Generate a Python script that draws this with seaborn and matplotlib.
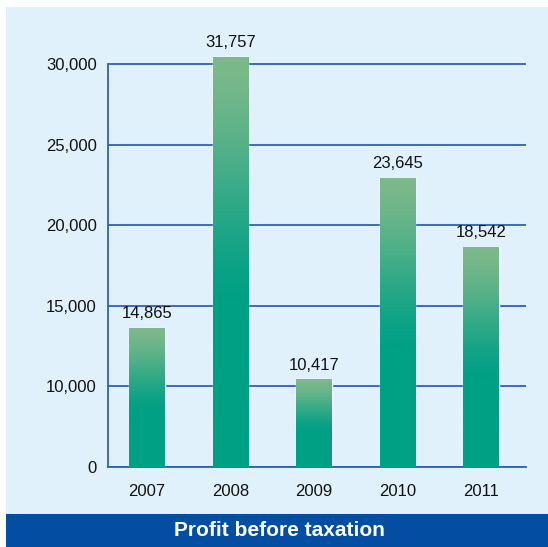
import numpy as np
import matplotlib
matplotlib.use("Agg")
import matplotlib.pyplot as plt
from matplotlib.colors import to_rgb
from matplotlib.patches import Rectangle
import seaborn as sns

# data
years = ["2007", "2008", "2009", "2010", "2011"]
bar_heights = [13600, 30430, 10400, 22900, 18640]   # where the bars actually end
value_labels = ["14,865", "31,757", "10,417", "23,645", "18,542"]
ytick_values = [5000, 10000, 15000, 20000, 25000, 30000]
ytick_labels = ["0", "10,000", "15,000", "20,000", "25,000", "30,000"]
title = "Profit before taxation"

BG = "#E0F1FB"
GRID = "#2F62B2"
BANNER = "#034EA2"
TEAL = "#00A085"
LIGHT = "#7DB98A"

sns.set_style("white")
plt.rcParams["font.family"] = ["Liberation Sans", "DejaVu Sans"]

fig = plt.figure(figsize=(5.48, 5.47), dpi=100, facecolor="white")
# light blue panel and the blue banner under it
fig.patches.append(Rectangle((6 / 548, 33 / 547), 1, 507 / 547, transform=fig.transFigure,
                             facecolor=BG, edgecolor="none", zorder=-10))
fig.patches.append(Rectangle((6 / 548, 0), 1, 33 / 547, transform=fig.transFigure,
                             facecolor=BANNER, edgecolor="none", zorder=-10))

ax = fig.add_axes([108 / 548, 80 / 547, 418 / 548, 451.4 / 547])
ax.set_facecolor("none")

sns.barplot(x=years, y=bar_heights, color=TEAL, width=0.42, saturation=1, ax=ax, zorder=2)

y0 = ytick_values[0]
ytop = 33000

# gradient fill: light green at the top fading into teal over the upper part
c_top = np.array(to_rgb(LIGHT))
c_bot = np.array(to_rgb(TEAL))
f = np.linspace(0, 1, 256)
t = np.clip((f - 0.40) / 0.60, 0, 1)
t = (t * t * (3 - 2 * t))[:, None] * 0.6 + t[:, None] * 0.4
grad = (c_bot * (1 - t) + c_top * t)[:, None, :]
for p, lab in zip(ax.patches, value_labels):
    x, w, h = p.get_x(), p.get_width(), p.get_height()
    ax.imshow(grad, extent=[x, x + w, y0, h], origin="lower", aspect="auto",
              interpolation="bilinear", zorder=3)
    ax.annotate(lab, (x + w / 2, h), xytext=(0, 5), textcoords="offset points",
                ha="center", va="bottom", fontsize=12, color="#111111", zorder=4)

ax.set_xlim(-0.467, 4.539)
ax.set_ylim(y0, ytop)

ax.set_yticks(ytick_values)
ax.set_yticklabels(ytick_labels)
ax.yaxis.grid(True, color=GRID, linewidth=1.3, zorder=1)
ax.set_axisbelow(True)
ax.tick_params(axis="y", length=0, pad=8, labelsize=12, labelcolor="#111111")

ax.set_xticks(range(len(years)))
ax.set_xticklabels(years)
ax.tick_params(axis="x", which="major", length=0, pad=12, labelsize=12, labelcolor="#111111")
ax.set_xticks([i + 0.53 for i in range(len(years))], minor=True)
ax.tick_params(axis="x", which="minor", direction="in", length=5.8, width=1.1, color=GRID)
ax.set_xlabel("")

for side in ["top", "right"]:
    ax.spines[side].set_visible(False)
for side in ["left", "bottom"]:
    ax.spines[side].set_color(GRID)
    ax.spines[side].set_linewidth(1.3)
ax.spines["left"].set_bounds(y0, 30000)

fig.text(279.5 / 548, 16.5 / 547, title, ha="center", va="center",
         fontsize=15, fontweight="bold", color="white")

fig.savefig("out.png", dpi=100, facecolor="white")
